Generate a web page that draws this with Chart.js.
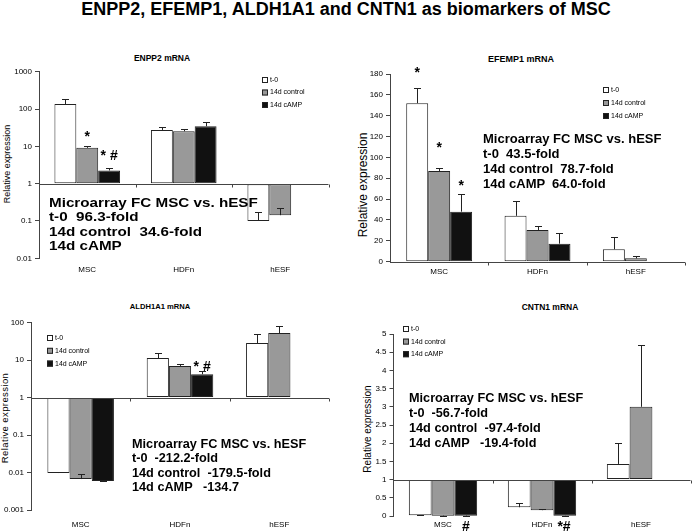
<!DOCTYPE html>
<html>
<head>
<meta charset="utf-8">
<script src="https://cdn.jsdelivr.net/npm/chart.js@4.4.0/dist/chart.umd.min.js"></script>
<style>
  body { margin:0; background:#fff; width:693px; height:531px; position:relative; overflow:hidden;
         font-family:"Liberation Sans", Arial, sans-serif; color:#000; }
  canvas { position:absolute; }
  .txt { position:absolute; white-space:pre; font-weight:bold; }
  .ttl { position:absolute; width:200px; text-align:center; font-weight:bold; white-space:nowrap; }
  .ytl { position:absolute; white-space:nowrap; transform:translate(-50%,-50%) rotate(-90deg); }
</style>
</head>
<body>

<div class="ttl" style="left:46px;width:600px;top:-1px;font-size:18px;line-height:20px">ENPP2, EFEMP1, ALDH1A1 and CNTN1 as biomarkers of MSC</div>

<div class="ttl" style="left:62px;top:53px;font-size:8.5px;line-height:10px">ENPP2 mRNA</div>
<div class="ttl" style="left:421px;top:54px;font-size:9px;line-height:11px">EFEMP1 mRNA</div>
<div class="ttl" style="left:60px;top:302px;font-size:7.6px;line-height:10px">ALDH1A1 mRNA</div>
<div class="ttl" style="left:450px;top:302px;font-size:8.5px;line-height:10px">CNTN1 mRNA</div>

<div class="ytl" style="left:7px;top:164px;font-size:9px">Relative expression</div>
<div class="ytl" style="left:363px;top:185px;font-size:12px">Relative expression</div>
<div class="ytl" style="left:4px;top:418px;font-size:9.5px;letter-spacing:0.4px">Relative expression</div>
<div class="ytl" style="left:367px;top:429px;font-size:10px">Relative expression</div>

<canvas id="c1" width="346" height="240" style="left:0;top:40px"></canvas>
<canvas id="c2" width="343" height="240" style="left:350px;top:40px"></canvas>
<canvas id="c3" width="346" height="241" style="left:0;top:290px"></canvas>
<canvas id="c4" width="343" height="241" style="left:350px;top:290px"></canvas>

<div class="txt" style="left:49px;top:196px;font-size:13px;line-height:14.3px;transform:scaleX(1.17);transform-origin:left top">Microarray FC MSC vs. hESF
t-0  96.3-fold
14d control  34.6-fold
14d cAMP</div>
<div class="txt" style="left:483px;top:130.7px;font-size:13px;line-height:15.2px">Microarray FC MSC vs. hESF
t-0  43.5-fold
14d control  78.7-fold
14d cAMP  64.0-fold</div>
<div class="txt" style="left:132px;top:437px;font-size:12.7px;line-height:14.3px">Microarray FC MSC vs. hESF
t-0  -212.2-fold
14d control  -179.5-fold
14d cAMP   -134.7</div>
<div class="txt" style="left:409px;top:390.6px;font-size:12.7px;line-height:15.3px">Microarray FC MSC vs. hESF
t-0  -56.7-fold
14d control  -97.4-fold
14d cAMP   -19.4-fold</div>

<script>
// categories and series
var groups = ['MSC', 'HDFn', 'hESF'];
var seriesNames = ['t-0', '14d control', '14d cAMP'];
var seriesColors = ['#ffffff', '#999999', '#111111'];

// ENPP2 (log)
var enpp2T0 = [136, 27.5, 0.1];
var enpp2Ctrl = [9.1, 25.4, 0.143];
var enpp2Camp = [2.26, 34.5, null];
var enpp2T0Err = [49, 5.5, 0.075];
var enpp2CtrlErr = [1.4, 3.3, 0.086];
var enpp2CampErr = [0.41, 9.5, null];
var enpp2Ticks = [0.01, 0.1, 1, 10, 100, 1000];

// EFEMP1 (linear)
var efemp1T0 = [152, 44, 11.9];
var efemp1Ctrl = [87, 30.4, 3.2];
var efemp1Camp = [48, 17.3, null];
var efemp1T0Err = [15, 14.5, 11.8];
var efemp1CtrlErr = [2.6, 4.1, 2.6];
var efemp1CampErr = [17, 10.5, null];

// ALDH1A1 (log)
var aldhT0 = [0.0097, 11.4, 28.6];
var aldhCtrl = [0.0067, 7.0, 52.8];
var aldhCamp = [0.0059, 4.2, null];
var aldhT0Err = [0.0004, 4.4, 20.4];
var aldhCtrlErr = [0.0023, 1.1, 30];
var aldhCampErr = [0, 0.9, null];
var aldhTicks = [0.001, 0.01, 0.1, 1, 10, 100];

// CNTN1 (linear)
var cntnT0 = [0.02, 0.24, 1.43];
var cntnCtrl = [0.01, 0.16, 3.0];
var cntnCamp = [0.01, 0.005, null];
var cntnT0Err = [0, 0.11, 0.57];
var cntnCtrlErr = [0, 0.02, 1.7];
var cntnCampErr = [0, 0, null];

var FONT = '"Liberation Sans", Arial, sans-serif';

// error bars (plus side only, like excel)
var errorBars = {
  id: 'errorBars',
  afterDatasetsDraw: function (chart) {
    var ctx = chart.ctx, ys = chart.scales.y;
    ctx.save();
    ctx.strokeStyle = '#222';
    ctx.lineWidth = 1;
    chart.data.datasets.forEach(function (ds, di) {
      var meta = chart.getDatasetMeta(di);
      ds.err.forEach(function (e, i) {
        if (e === null || ds.data[i] === null) return;
        var x = Math.round(meta.data[i].x) + 0.5;
        var y0 = ys.getPixelForValue(ds.data[i]);
        var y1 = Math.round(ys.getPixelForValue(ds.data[i] + e)) + 0.5;
        ctx.beginPath();
        ctx.moveTo(x, y0); ctx.lineTo(x, y1);
        ctx.moveTo(x - 3.5, y1); ctx.lineTo(x + 3.5, y1);
        ctx.stroke();
      });
    });
    ctx.restore();
  }
};

// category axis drawn across the base value, with small tick marks
var baseAxis = {
  id: 'baseAxis',
  afterDatasetsDraw: function (chart, args, opts) {
    var ctx = chart.ctx, xs = chart.scales.x, ys = chart.scales.y, a = chart.chartArea;
    var y = Math.round(ys.getPixelForValue(opts.base)) + 0.5;
    ctx.save();
    ctx.strokeStyle = '#444';
    ctx.lineWidth = 1;
    ctx.beginPath();
    ctx.moveTo(a.left, y); ctx.lineTo(a.right, y);
    for (var i = 0; i < groups.length; i++) {
      var bx = Math.round(xs.getPixelForValue(i + 0.5)) + 0.5;
      ctx.moveTo(bx, y); ctx.lineTo(bx, y + 3);
    }
    ctx.stroke();
    ctx.restore();
  }
};

// legend and significance marks
var marks = {
  id: 'marks',
  afterDraw: function (chart, args, opts) {
    var ctx = chart.ctx, xs = chart.scales.x, ys = chart.scales.y;
    ctx.save();
    var lg = opts.legend;
    ctx.font = '7px ' + FONT;
    ctx.textBaseline = 'middle';
    chart.data.datasets.forEach(function (ds, i) {
      var yy = lg.y + i * lg.dy;
      ctx.fillStyle = ds.backgroundColor;
      ctx.fillRect(lg.x, yy - 3, 6, 6);
      ctx.strokeStyle = '#222';
      ctx.lineWidth = 1;
      ctx.strokeRect(lg.x + 0.5, yy - 2.5, 5, 5);
      ctx.fillStyle = '#000';
      ctx.textAlign = 'left';
      ctx.fillText(ds.label, lg.x + 8, yy);
    });
    ctx.textAlign = 'center';
    ctx.font = 'bold 14px ' + FONT;
    opts.notes.forEach(function (n) {
      var x, y;
      if (n.row) {
        x = xs.getPixelForValue(n.cat) + n.dx;
        y = chart.chartArea.bottom + n.dy;
      } else {
        x = chart.getDatasetMeta(n.ds).data[n.cat].x;
        y = ys.getPixelForValue(n.y);
      }
      ctx.fillText(n.text, x, y);
    });
    ctx.restore();
  }
};

function makePanel(p) {
  var vals = [p.t0, p.ctrl, p.camp];
  var errs = [p.t0Err, p.ctrlErr, p.campErr];
  var datasets = vals.map(function (v, i) {
    return {
      label: seriesNames[i],
      data: v,
      err: errs[i],
      base: p.base,
      backgroundColor: seriesColors[i],
      borderColor: '#222',
      borderWidth: 1,
      borderSkipped: false,
      categoryPercentage: p.catPct,
      barPercentage: 1
    };
  });
  var yOpts = {
    type: p.type,
    min: p.min,
    max: p.max,
    grid: { drawOnChartArea: false, tickLength: 4, color: '#444' },
    border: { color: '#444' },
    ticks: { font: { size: 8, family: FONT }, color: '#000', padding: 3,
             callback: function (v) { return String(v); } },
    afterFit: function (s) { s.width = p.yW; }
  };
  if (p.type === 'logarithmic') {
    yOpts.afterBuildTicks = function (s) { s.ticks = p.ticks.map(function (v) { return { value: v }; }); };
  } else {
    yOpts.ticks.stepSize = p.step;
  }
  new Chart(document.getElementById(p.id), {
    type: 'bar',
    data: { labels: groups, datasets: datasets },
    options: {
      responsive: false,
      animation: false,
      layout: { padding: { left: 0, right: p.padR, top: p.padT, bottom: 0 } },
      plugins: {
        legend: { display: false },
        tooltip: { enabled: false },
        baseAxis: { base: p.base },
        marks: { legend: p.legend, notes: p.notes }
      },
      scales: {
        x: {
          grid: { display: false, drawTicks: false },
          border: { display: false },
          ticks: { font: { size: 8, family: FONT }, color: '#000', padding: p.xPad, maxRotation: 0 },
          afterFit: function (s) { s.height = p.xH; }
        },
        y: yOpts
      }
    },
    plugins: [baseAxis, errorBars, marks]
  });
}

makePanel({
  id: 'c1', type: 'logarithmic', min: 0.01, max: 1000, ticks: enpp2Ticks, base: 1,
  t0: enpp2T0, ctrl: enpp2Ctrl, camp: enpp2Camp,
  t0Err: enpp2T0Err, ctrlErr: enpp2CtrlErr, campErr: enpp2CampErr,
  catPct: 0.68, yW: 39, padR: 17.5, padT: 31.7, xH: 21.7, xPad: 7,
  legend: { x: 262, y: 40, dy: 12.5 },
  notes: [
    { ds: 1, cat: 0, y: 17.5, text: '*' },
    { ds: 2, cat: 0, y: 5.3, text: '* #' }
  ]
});

makePanel({
  id: 'c2', type: 'linear', min: 0, max: 180, step: 20, base: 0,
  t0: efemp1T0, ctrl: efemp1Ctrl, camp: efemp1Camp,
  t0Err: efemp1T0Err, ctrlErr: efemp1CtrlErr, campErr: efemp1CampErr,
  catPct: 0.67, yW: 40, padR: 8, padT: 34, xH: 18.3, xPad: 5.5,
  legend: { x: 253, y: 50, dy: 13 },
  notes: [
    { ds: 0, cat: 0, y: 181, text: '*' },
    { ds: 1, cat: 0, y: 109, text: '*' },
    { ds: 2, cat: 0, y: 72, text: '*' }
  ]
});

makePanel({
  id: 'c3', type: 'logarithmic', min: 0.001, max: 100, ticks: aldhTicks, base: 1,
  t0: aldhT0, ctrl: aldhCtrl, camp: aldhCamp,
  t0Err: aldhT0Err, ctrlErr: aldhCtrlErr, campErr: aldhCampErr,
  catPct: 0.67, yW: 31, padR: 17, padT: 32.7, xH: 21, xPad: 10,
  legend: { x: 47, y: 48, dy: 12.8 },
  notes: [
    { ds: 2, cat: 1, y: 6.5, text: '* #' }
  ]
});

makePanel({
  id: 'c4', type: 'linear', min: 0, max: 5, step: 0.5, base: 1,
  t0: cntnT0, ctrl: cntnCtrl, camp: cntnCamp,
  t0Err: cntnT0Err, ctrlErr: cntnCtrlErr, campErr: cntnCampErr,
  catPct: 0.69, yW: 43.5, padR: 2.5, padT: 44, xH: 15, xPad: 4.2,
  legend: { x: 53, y: 39, dy: 12.6 },
  notes: [
    { row: true, cat: 0, dx: 23, dy: 11, text: '#' },
    { row: true, cat: 1, dx: 22, dy: 11, text: '*#' }
  ]
});
</script>
</body>
</html>
